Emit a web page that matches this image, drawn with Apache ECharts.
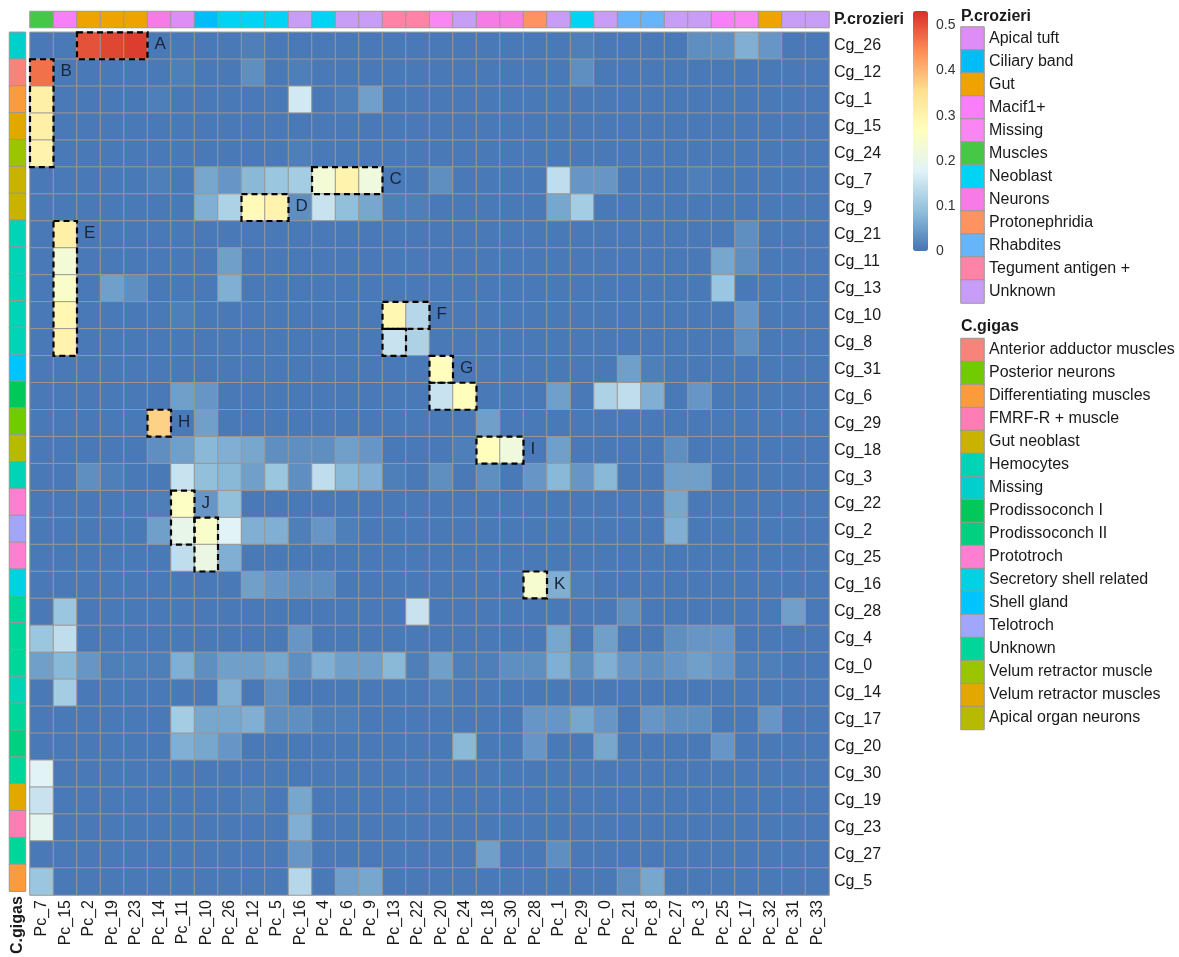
<!DOCTYPE html>
<html style="height: 100%">

<head>
	<meta charset="utf-8">
</head>

<body style="height: 100%; margin: 0; background: #fff">
	<div id="container" style="width: 1179px; height: 957px;"></div>
	<script type="text/javascript" src="https://cdn.jsdelivr.net/npm/echarts@6/dist/echarts.min.js"></script>
	<script type="text/javascript">
		// columns (P.crozieri clusters) and rows (C.gigas clusters), in display order
		let pcCols = ['Pc_7', 'Pc_15', 'Pc_2', 'Pc_19', 'Pc_23', 'Pc_14', 'Pc_11', 'Pc_10', 'Pc_26', 'Pc_12',
			'Pc_5', 'Pc_16', 'Pc_4', 'Pc_6', 'Pc_9', 'Pc_13', 'Pc_22', 'Pc_20', 'Pc_24', 'Pc_18',
			'Pc_30', 'Pc_28', 'Pc_1', 'Pc_29', 'Pc_0', 'Pc_21', 'Pc_8', 'Pc_27', 'Pc_3', 'Pc_25',
			'Pc_17', 'Pc_32', 'Pc_31', 'Pc_33'];
		let cgRows = ['Cg_26', 'Cg_12', 'Cg_1', 'Cg_15', 'Cg_24', 'Cg_7', 'Cg_9', 'Cg_21', 'Cg_11', 'Cg_13',
			'Cg_10', 'Cg_8', 'Cg_31', 'Cg_6', 'Cg_29', 'Cg_18', 'Cg_3', 'Cg_22', 'Cg_2', 'Cg_25',
			'Cg_16', 'Cg_28', 'Cg_4', 'Cg_0', 'Cg_14', 'Cg_17', 'Cg_20', 'Cg_30', 'Cg_19', 'Cg_23',
			'Cg_27', 'Cg_5'];

		// similarity values, one row per C.gigas cluster (same order as pcCols)
		let values = [
			[0.005,0.005,0.50,0.51,0.52,0.005,0.005,0.005,0.005,0.012, 0.005,0.005,0.005,0.005,0.005,0.005,0.005,0.005,0.005,0.005, 0.005,0.005,0.005,0.012,0.005,0.005,0.005,0.005,0.03,0.03, 0.07,0.04,0.005,0.005],
			[0.47,0.005,0.005,0.005,0.005,0.005,0.012,0.005,0.005,0.03, 0.005,0.012,0.005,0.005,0.005,0.005,0.005,0.005,0.005,0.005, 0.005,0.005,0.005,0.03,0.005,0.005,0.005,0.005,0.005,0.005, 0.005,0.005,0.005,0.005],
			[0.31,0.005,0.005,0.005,0.005,0.012,0.005,0.005,0.005,0.005, 0.005,0.16,0.005,0.012,0.05,0.005,0.005,0.005,0.005,0.005, 0.005,0.005,0.005,0.005,0.005,0.005,0.005,0.005,0.005,0.005, 0.005,0.005,0.005,0.005],
			[0.31,0.005,0.005,0.005,0.005,0.005,0.005,0.005,0.005,0.005, 0.005,0.005,0.005,0.005,0.005,0.005,0.005,0.005,0.005,0.005, 0.005,0.005,0.005,0.005,0.005,0.005,0.005,0.005,0.005,0.005, 0.005,0.005,0.005,0.005],
			[0.30,0.005,0.005,0.005,0.005,0.005,0.005,0.005,0.005,0.005, 0.005,0.012,0.005,0.005,0.005,0.005,0.005,0.005,0.005,0.005, 0.005,0.005,0.005,0.005,0.005,0.005,0.005,0.005,0.005,0.005, 0.005,0.005,0.005,0.005],
			[0.005,0.005,0.005,0.005,0.005,0.012,0.005,0.06,0.04,0.08, 0.10,0.11,0.23,0.30,0.22,0.005,0.005,0.03,0.005,0.005, 0.005,0.005,0.14,0.04,0.04,0.005,0.005,0.005,0.012,0.005, 0.005,0.005,0.005,0.005],
			[0.005,0.005,0.005,0.005,0.005,0.005,0.005,0.07,0.12,0.28, 0.30,0.03,0.15,0.09,0.06,0.012,0.012,0.005,0.005,0.005, 0.005,0.005,0.06,0.11,0.005,0.005,0.005,0.005,0.005,0.005, 0.005,0.005,0.005,0.005],
			[0.005,0.31,0.005,0.005,0.005,0.005,0.005,0.005,0.005,0.005, 0.005,0.005,0.005,0.005,0.005,0.005,0.005,0.005,0.005,0.005, 0.005,0.005,0.005,0.005,0.005,0.005,0.005,0.005,0.005,0.005, 0.03,0.005,0.005,0.005],
			[0.005,0.23,0.005,0.005,0.005,0.005,0.005,0.005,0.05,0.005, 0.005,0.005,0.005,0.005,0.005,0.005,0.005,0.005,0.005,0.005, 0.005,0.005,0.005,0.005,0.005,0.005,0.005,0.005,0.005,0.06, 0.03,0.005,0.005,0.005],
			[0.005,0.25,0.005,0.05,0.03,0.005,0.005,0.005,0.07,0.005, 0.005,0.005,0.005,0.005,0.005,0.005,0.005,0.005,0.005,0.005, 0.005,0.005,0.005,0.005,0.005,0.005,0.005,0.005,0.005,0.10, 0.005,0.005,0.005,0.005],
			[0.005,0.29,0.005,0.005,0.005,0.005,0.012,0.005,0.005,0.005, 0.005,0.005,0.005,0.005,0.005,0.29,0.13,0.005,0.005,0.005, 0.005,0.005,0.005,0.005,0.005,0.005,0.005,0.005,0.005,0.005, 0.04,0.005,0.005,0.005],
			[0.005,0.30,0.005,0.005,0.005,0.005,0.005,0.005,0.005,0.005, 0.005,0.005,0.005,0.005,0.005,0.15,0.12,0.005,0.005,0.005, 0.005,0.005,0.005,0.005,0.005,0.005,0.005,0.005,0.005,0.005, 0.03,0.005,0.005,0.005],
			[0.005,0.005,0.005,0.005,0.005,0.005,0.005,0.005,0.005,0.005, 0.005,0.005,0.005,0.005,0.005,0.005,0.005,0.27,0.005,0.005, 0.005,0.005,0.005,0.005,0.005,0.05,0.012,0.005,0.005,0.005, 0.005,0.005,0.005,0.005],
			[0.005,0.005,0.005,0.005,0.005,0.005,0.05,0.04,0.005,0.005, 0.005,0.005,0.005,0.005,0.005,0.005,0.005,0.15,0.27,0.005, 0.005,0.005,0.05,0.005,0.12,0.14,0.07,0.005,0.04,0.005, 0.005,0.005,0.005,0.005],
			[0.005,0.005,0.005,0.005,0.005,0.37,0.005,0.05,0.005,0.005, 0.005,0.005,0.005,0.005,0.005,0.005,0.005,0.005,0.005,0.05, 0.005,0.005,0.005,0.005,0.005,0.005,0.005,0.005,0.005,0.005, 0.005,0.005,0.005,0.005],
			[0.005,0.005,0.005,0.005,0.005,0.03,0.05,0.08,0.07,0.06, 0.03,0.03,0.03,0.05,0.04,0.005,0.005,0.005,0.012,0.27, 0.22,0.005,0.05,0.005,0.005,0.005,0.005,0.03,0.005,0.005, 0.005,0.005,0.005,0.005],
			[0.005,0.005,0.03,0.012,0.005,0.005,0.15,0.09,0.08,0.05, 0.10,0.03,0.14,0.08,0.07,0.012,0.005,0.03,0.005,0.03, 0.005,0.04,0.08,0.04,0.08,0.005,0.005,0.05,0.05,0.005, 0.005,0.005,0.005,0.005],
			[0.005,0.005,0.005,0.005,0.005,0.012,0.26,0.04,0.09,0.005, 0.005,0.005,0.005,0.005,0.005,0.005,0.005,0.005,0.005,0.005, 0.005,0.005,0.005,0.005,0.005,0.005,0.005,0.06,0.005,0.005, 0.005,0.005,0.005,0.005],
			[0.005,0.005,0.005,0.005,0.005,0.05,0.20,0.25,0.18,0.07, 0.07,0.012,0.04,0.012,0.005,0.005,0.005,0.005,0.005,0.005, 0.005,0.005,0.005,0.005,0.005,0.005,0.005,0.07,0.005,0.005, 0.005,0.005,0.005,0.005],
			[0.005,0.005,0.005,0.005,0.005,0.005,0.14,0.21,0.07,0.005, 0.005,0.005,0.005,0.005,0.005,0.005,0.005,0.005,0.005,0.005, 0.005,0.005,0.005,0.005,0.005,0.005,0.005,0.005,0.005,0.005, 0.005,0.005,0.005,0.005],
			[0.005,0.005,0.005,0.005,0.005,0.005,0.005,0.005,0.005,0.05, 0.04,0.03,0.03,0.005,0.005,0.005,0.005,0.005,0.005,0.005, 0.005,0.24,0.07,0.012,0.005,0.005,0.005,0.005,0.005,0.005, 0.005,0.005,0.005,0.005],
			[0.005,0.10,0.005,0.005,0.005,0.005,0.005,0.005,0.005,0.005, 0.005,0.005,0.005,0.005,0.005,0.005,0.15,0.005,0.005,0.005, 0.005,0.005,0.005,0.005,0.005,0.03,0.005,0.005,0.005,0.005, 0.005,0.005,0.05,0.005],
			[0.10,0.14,0.005,0.005,0.005,0.005,0.005,0.005,0.005,0.005, 0.005,0.04,0.005,0.005,0.005,0.005,0.005,0.005,0.005,0.005, 0.005,0.005,0.06,0.005,0.05,0.005,0.005,0.03,0.04,0.04, 0.005,0.005,0.005,0.005],
			[0.05,0.08,0.04,0.012,0.012,0.012,0.07,0.03,0.05,0.05, 0.06,0.03,0.07,0.05,0.05,0.08,0.012,0.05,0.012,0.012, 0.03,0.03,0.07,0.03,0.07,0.04,0.03,0.04,0.05,0.04, 0.012,0.012,0.005,0.005],
			[0.005,0.11,0.005,0.005,0.005,0.005,0.005,0.005,0.07,0.005, 0.03,0.005,0.005,0.005,0.005,0.005,0.005,0.012,0.005,0.005, 0.005,0.005,0.005,0.005,0.005,0.005,0.005,0.005,0.005,0.005, 0.005,0.005,0.005,0.005],
			[0.005,0.005,0.005,0.005,0.005,0.005,0.11,0.06,0.06,0.07, 0.03,0.03,0.012,0.012,0.005,0.005,0.005,0.005,0.005,0.005, 0.005,0.04,0.04,0.06,0.04,0.005,0.04,0.03,0.03,0.005, 0.005,0.04,0.005,0.005],
			[0.005,0.005,0.005,0.005,0.005,0.005,0.07,0.06,0.04,0.005, 0.005,0.005,0.005,0.005,0.005,0.005,0.005,0.005,0.08,0.005, 0.005,0.04,0.005,0.005,0.06,0.005,0.005,0.005,0.005,0.04, 0.005,0.005,0.005,0.005],
			[0.18,0.005,0.005,0.005,0.005,0.005,0.005,0.005,0.005,0.005, 0.005,0.005,0.005,0.005,0.005,0.005,0.005,0.005,0.005,0.005, 0.005,0.005,0.005,0.005,0.005,0.005,0.005,0.005,0.005,0.005, 0.005,0.005,0.005,0.005],
			[0.15,0.005,0.005,0.005,0.005,0.005,0.005,0.005,0.005,0.012, 0.005,0.06,0.005,0.005,0.005,0.005,0.005,0.005,0.005,0.005, 0.005,0.005,0.005,0.005,0.005,0.005,0.005,0.005,0.005,0.005, 0.005,0.005,0.005,0.005],
			[0.19,0.005,0.005,0.005,0.005,0.005,0.005,0.005,0.005,0.005, 0.005,0.07,0.005,0.005,0.005,0.005,0.005,0.005,0.005,0.005, 0.005,0.005,0.005,0.005,0.005,0.005,0.005,0.005,0.005,0.005, 0.005,0.005,0.005,0.005],
			[0.005,0.005,0.005,0.005,0.005,0.005,0.005,0.005,0.005,0.005, 0.005,0.04,0.005,0.005,0.005,0.005,0.005,0.005,0.005,0.05, 0.005,0.005,0.03,0.005,0.005,0.005,0.005,0.005,0.005,0.005, 0.005,0.005,0.005,0.005],
			[0.10,0.005,0.005,0.005,0.005,0.005,0.005,0.005,0.005,0.005, 0.005,0.13,0.005,0.05,0.06,0.005,0.005,0.005,0.005,0.005, 0.005,0.005,0.005,0.005,0.005,0.03,0.06,0.005,0.005,0.005, 0.005,0.005,0.005,0.005]
		];
		let valueMax = 0.532;
		let scaleTicks = [0, 0.1, 0.2, 0.3, 0.4, 0.5];

		// annotation classes and colours
		let pcClasses = ['Apical tuft', 'Ciliary band', 'Gut', 'Macif1+', 'Missing', 'Muscles', 'Neoblast',
			'Neurons', 'Protonephridia', 'Rhabdites', 'Tegument antigen +', 'Unknown'];
		let pcColors = ['#DF8DF6', '#00BDF7', '#EFA300', '#F97FFA', '#F986F2', '#46C846', '#00D3F3',
			'#F77BE6', '#FF9261', '#66B5FA', '#FF83A6', '#C79DF7'];
		let cgClasses = ['Anterior adductor muscles', 'Posterior neurons', 'Differentiating muscles',
			'FMRF-R + muscle', 'Gut neoblast', 'Hemocytes', 'Missing', 'Prodissoconch I', 'Prodissoconch II',
			'Prototroch', 'Secretory shell related', 'Shell gland', 'Telotroch', 'Unknown',
			'Velum retractor muscle', 'Velum retractor muscles', 'Apical organ neurons'];
		let cgColors = ['#F8837B', '#70CC00', '#FB9B3C', '#FD7DB4', '#C9B200', '#00D3B6', '#00CFCC',
			'#00C95A', '#00D080', '#FE7ED2', '#00D2E4', '#00C4FE', '#A2A6FA', '#00D69A',
			'#9AC500', '#E2A800', '#B6BA00'];

		let pcColClass = ['Muscles', 'Macif1+', 'Gut', 'Gut', 'Gut', 'Neurons', 'Apical tuft', 'Ciliary band',
			'Neoblast', 'Neoblast', 'Neoblast', 'Unknown', 'Neoblast', 'Unknown', 'Unknown',
			'Tegument antigen +', 'Tegument antigen +', 'Missing', 'Unknown', 'Neurons', 'Neurons',
			'Protonephridia', 'Unknown', 'Neoblast', 'Unknown', 'Rhabdites', 'Rhabdites', 'Unknown',
			'Unknown', 'Macif1+', 'Missing', 'Gut', 'Unknown', 'Unknown'];
		let cgRowClass = ['Missing', 'Anterior adductor muscles', 'Differentiating muscles',
			'Velum retractor muscles', 'Velum retractor muscle', 'Gut neoblast', 'Gut neoblast',
			'Hemocytes', 'Hemocytes', 'Hemocytes', 'Hemocytes', 'Hemocytes', 'Shell gland',
			'Prodissoconch I', 'Posterior neurons', 'Apical organ neurons', 'Hemocytes', 'Prototroch',
			'Telotroch', 'Prototroch', 'Secretory shell related', 'Unknown', 'Unknown', 'Unknown',
			'Hemocytes', 'Unknown', 'Prodissoconch II', 'Unknown', 'Velum retractor muscles',
			'FMRF-R + muscle', 'Unknown', 'Differentiating muscles'];

		// dashed highlight boxes: first col, last col, first row, last row, letter
		let boxes = [
			['Pc_2', 'Pc_23', 'Cg_26', 'Cg_26', 'A'],
			['Pc_7', 'Pc_7', 'Cg_12', 'Cg_24', 'B'],
			['Pc_4', 'Pc_9', 'Cg_7', 'Cg_7', 'C'],
			['Pc_12', 'Pc_5', 'Cg_9', 'Cg_9', 'D'],
			['Pc_15', 'Pc_15', 'Cg_21', 'Cg_8', 'E'],
			['Pc_13', 'Pc_22', 'Cg_10', 'Cg_10', 'F'],
			['Pc_13', 'Pc_13', 'Cg_8', 'Cg_8', ''],
			['Pc_20', 'Pc_20', 'Cg_31', 'Cg_31', 'G'],
			['Pc_20', 'Pc_24', 'Cg_6', 'Cg_6', ''],
			['Pc_14', 'Pc_14', 'Cg_29', 'Cg_29', 'H'],
			['Pc_18', 'Pc_30', 'Cg_18', 'Cg_18', 'I'],
			['Pc_11', 'Pc_11', 'Cg_22', 'Cg_2', 'J'],
			['Pc_10', 'Pc_10', 'Cg_2', 'Cg_25', ''],
			['Pc_28', 'Pc_28', 'Cg_16', 'Cg_16', 'K']
		];

		let dom = document.getElementById('container');
		let myChart = echarts.init(dom, null, { renderer: 'canvas' });

		let font = 'Liberation Sans, Arial, sans-serif';
		let textColor = '#1a1a1a';
		let cellBorder = '#9c9793';

		// main grid geometry
		let gLeft = 30, gTop = 32.3, gWidth = 799, gHeight = 862.7;
		let rowH = gHeight / cgRows.length;
		let nRows = cgRows.length;

		let heatData = [];
		for (let r = 0; r < cgRows.length; r++) {
			for (let c = 0; c < pcCols.length; c++) {
				heatData.push([c, r, values[r][c]]);
			}
		}

		// annotation colours share one piecewise map: P.crozieri first, then C.gigas
		let allColors = pcColors.concat(cgColors);
		let pieces = allColors.map(function (col, i) { return { value: i, color: col }; });

		let topData = pcColClass.map(function (name, i) { return [i, 0, pcClasses.indexOf(name)]; });
		let leftData = cgRowClass.map(function (name, i) { return [0, i, pcClasses.length + cgClasses.indexOf(name)]; });
		let pcLegendData = pcClasses.map(function (name, i) { return [0, i, i]; });
		let cgLegendData = cgClasses.map(function (name, i) { return [0, i, pcClasses.length + i]; });

		// overlay axis runs bottom-up, so row r spans [nRows - r - 1, nRows - r]
		let areaData = boxes.map(function (b) {
			let x0 = pcCols.indexOf(b[0]), x1 = pcCols.indexOf(b[1]) + 1;
			let yTop = nRows - cgRows.indexOf(b[2]), yBottom = nRows - cgRows.indexOf(b[3]) - 1;
			return [{
				coord: [x0, yTop],
				label: {
					show: b[4] !== '',
					formatter: b[4],
					position: ['100%', 0],
					offset: [6, rowH / 2],
					align: 'left',
					verticalAlign: 'middle',
					color: '#1c2438',
					fontSize: 17,
					fontFamily: font
				}
			}, { coord: [x1, yBottom] }];
		});

		function hiddenCat(gridIndex, data, inverse) {
			return { type: 'category', gridIndex: gridIndex, data: data, show: false, inverse: !!inverse };
		}

		let labelAxis = {
			axisLine: { show: false },
			axisTick: { show: false },
			splitLine: { show: false }
		};

		let option = {
			animation: false,
			textStyle: { fontFamily: font },
			title: [
				{ text: 'P.crozieri', left: 961, top: 9, padding: 0, textStyle: { fontSize: 16, fontWeight: 'bold', color: textColor, fontFamily: font } },
				{ text: 'C.gigas', left: 961, top: 319, padding: 0, textStyle: { fontSize: 16, fontWeight: 'bold', color: textColor, fontFamily: font } }
			],
			grid: [
				{ left: gLeft, top: gTop, width: gWidth, height: gHeight },   // 0 main
				{ left: gLeft, top: 11.5, width: gWidth, height: 16 },       // 1 top annotation
				{ left: 9.5, top: gTop, width: 16, height: gHeight },        // 2 left annotation
				{ left: 961, top: 27, width: 23, height: 23 * pcClasses.length },   // 3 legend P.crozieri
				{ left: 961, top: 338.5, width: 23, height: 23 * cgClasses.length }, // 4 legend C.gigas
				{ left: 913, top: 11, width: 15, height: 240 },               // 5 colour scale axis
				{ left: gLeft, top: gTop, width: gWidth, height: gHeight }    // 6 box overlay
			],
			xAxis: [
				Object.assign({
					type: 'category', gridIndex: 0, data: pcCols, position: 'bottom',
					axisLabel: { rotate: 90, interval: 0, margin: 5, fontSize: 16, color: textColor, fontFamily: font }
				}, labelAxis),
				hiddenCat(1, pcCols),
				Object.assign({
					type: 'category', gridIndex: 2, data: ['C.gigas'], position: 'bottom',
					axisLabel: { rotate: 90, margin: 5, fontSize: 16, fontWeight: 'bold', color: textColor, fontFamily: font }
				}, labelAxis),
				hiddenCat(3, ['']),
				hiddenCat(4, ['']),
				{ type: 'value', gridIndex: 5, show: false, min: 0, max: 1 },
				{ type: 'value', gridIndex: 6, show: false, min: 0, max: pcCols.length }
			],
			yAxis: [
				Object.assign({
					type: 'category', gridIndex: 0, data: cgRows, inverse: true, position: 'right',
					axisLabel: { interval: 0, margin: 5, fontSize: 16, color: textColor, fontFamily: font }
				}, labelAxis),
				Object.assign({
					type: 'category', gridIndex: 1, data: ['P.crozieri'], position: 'right',
					axisLabel: { margin: 5, fontSize: 16, fontWeight: 'bold', color: textColor, fontFamily: font }
				}, labelAxis),
				hiddenCat(2, cgRows, true),
				Object.assign({
					type: 'category', gridIndex: 3, data: pcClasses, inverse: true, position: 'right',
					axisLabel: { interval: 0, margin: 5, fontSize: 16, color: textColor, fontFamily: font }
				}, labelAxis),
				Object.assign({
					type: 'category', gridIndex: 4, data: cgClasses, inverse: true, position: 'right',
					axisLabel: { interval: 0, margin: 5, fontSize: 16, color: textColor, fontFamily: font }
				}, labelAxis),
				Object.assign({
					type: 'value', gridIndex: 5, position: 'right', min: 0, max: valueMax, interval: 0.1,
					axisLabel: {
						margin: 8, fontSize: 14, color: '#333', fontFamily: font, showMaxLabel: false,
						formatter: function (v) { return scaleTicks.indexOf(Math.round(v * 10) / 10) >= 0 ? String(Math.round(v * 10) / 10) : ''; }
					}
				}, labelAxis),
				{ type: 'value', gridIndex: 6, show: false, min: 0, max: nRows }
			],
			visualMap: [
				{
					type: 'continuous',
					seriesIndex: 0,
					dimension: 2,
					min: 0,
					max: valueMax,
					show: true,
					calculable: false,
					hoverLink: false,
					left: 913,
					top: 11,
					padding: 0,
					itemWidth: 15,
					itemHeight: 240,
					inRange: { color: ['#4575B4', '#91BFDB', '#E0F3F8', '#FFFFBF', '#FEE090', '#FC8D59', '#D73027'] }
				},
				{
					type: 'piecewise',
					seriesIndex: [1, 2, 3, 4],
					dimension: 2,
					show: false,
					pieces: pieces
				}
			],
			series: [
				{
					type: 'heatmap', xAxisIndex: 0, yAxisIndex: 0, data: heatData,
					itemStyle: { borderColor: cellBorder, borderWidth: 1 },
					emphasis: { disabled: true }
				},
				{
					type: 'heatmap', xAxisIndex: 1, yAxisIndex: 1, data: topData,
					itemStyle: { borderColor: cellBorder, borderWidth: 1 },
					emphasis: { disabled: true }
				},
				{
					type: 'heatmap', xAxisIndex: 2, yAxisIndex: 2, data: leftData,
					itemStyle: { borderColor: cellBorder, borderWidth: 1 },
					emphasis: { disabled: true }
				},
				{
					type: 'heatmap', xAxisIndex: 3, yAxisIndex: 3, data: pcLegendData,
					itemStyle: { borderColor: cellBorder, borderWidth: 1 },
					emphasis: { disabled: true }
				},
				{
					type: 'heatmap', xAxisIndex: 4, yAxisIndex: 4, data: cgLegendData,
					itemStyle: { borderColor: cellBorder, borderWidth: 1 },
					emphasis: { disabled: true }
				},
				{
					type: 'scatter', xAxisIndex: 6, yAxisIndex: 6, data: [[0, 0]], symbolSize: 0,
					silent: true, z: 10, clip: false,
					markArea: {
						silent: true,
						z: 20,
						itemStyle: { color: 'rgba(0,0,0,0)', borderColor: '#000', borderWidth: 2.2, borderType: [6, 4] },
						emphasis: { disabled: true },
						data: areaData
					}
				}
			]
		};

		myChart.setOption(option);
	</script>
</body>
</html>
